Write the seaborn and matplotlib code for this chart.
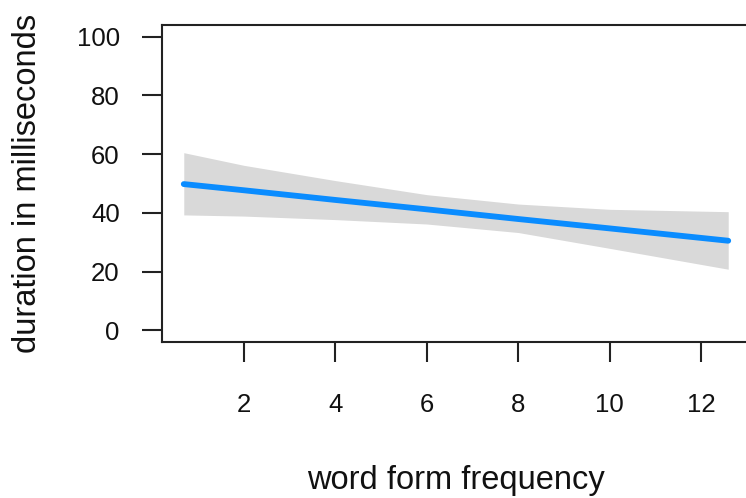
import matplotlib
matplotlib.use("Agg")
import matplotlib.pyplot as plt
import seaborn as sns
import pandas as pd

# Effect of word form frequency on duration, with confidence band
frequency = [0.69, 2.0, 4.0, 6.0, 8.0, 10.0, 12.59]
fit = [49.8, 47.7, 44.4, 41.2, 37.9, 34.7, 30.5]
upper = [60.5, 56.2, 51.0, 46.2, 43.0, 41.2, 40.4]
lower = [39.3, 38.9, 37.7, 36.2, 33.3, 27.9, 20.8]

x_ticks = [2, 4, 6, 8, 10, 12]
y_ticks = [0, 20, 40, 60, 80, 100]

df = pd.DataFrame({"frequency": frequency, "fit": fit, "upper": upper, "lower": lower})

sns.set_style("ticks")
plt.rcParams["font.family"] = ["Liberation Sans", "DejaVu Sans"]

fig = plt.figure(figsize=(7.46, 4.98), dpi=100)
ax = fig.add_axes([162 / 746, 1 - 342 / 498, 588 / 746, 317 / 498])

ax.fill_between(df["frequency"], df["lower"], df["upper"], color="#d9d9d9", linewidth=0, zorder=1)
sns.lineplot(data=df, x="frequency", y="fit", ax=ax, color="#0a8cff", linewidth=4.2,
             solid_capstyle="round", zorder=2)

span = frequency[-1] - frequency[0]
ax.set_xlim(frequency[0] - 0.04 * span, frequency[-1] + 0.04 * span)
ax.set_ylim(-4, 104)
ax.set_xticks(x_ticks)
ax.set_yticks(y_ticks)
ax.set_xticklabels([str(v) for v in x_ticks])
ax.set_yticklabels([str(v) for v in y_ticks])

for side in ["left", "bottom", "top", "right"]:
    ax.spines[side].set_visible(True)
    ax.spines[side].set_linewidth(1.5)
    ax.spines[side].set_color("#222222")

ax.tick_params(axis="both", length=14.5, width=1.5, color="#222222",
               labelsize=18.5, labelcolor="#111111")
ax.tick_params(axis="y", pad=16)
ax.tick_params(axis="x", pad=22)

ax.set_xlabel("word form frequency", fontsize=23.5, color="#111111")
ax.set_ylabel("duration in milliseconds", fontsize=23.5, color="#111111")
ax.xaxis.set_label_coords(0.5, -0.387)
ax.yaxis.set_label_coords(-0.202, 0.5)

fig.savefig("out.png", dpi=100)
